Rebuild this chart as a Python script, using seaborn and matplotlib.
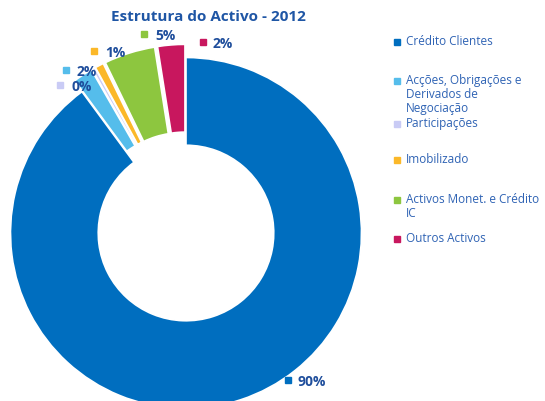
import matplotlib
matplotlib.use("Agg")
from matplotlib import pyplot as plt
from matplotlib.patches import Rectangle
import seaborn as sns

# dados
categorias = [
    "Crédito Clientes",
    "Acções, Obrigações e\nDerivados de\nNegociação",
    "Participações",
    "Imobilizado",
    "Activos Monet. e Crédito\nIC",
    "Outros Activos",
]
valores = [89.9, 1.8, 0.3, 0.8, 4.7, 2.5]
rotulos = ["90%", "2%", "0%", "1%", "5%", "2%"]
cores = ["#006EBF", "#55BDEB", "#C9CBF5", "#FBB829", "#8DC63F", "#C8175E"]

sns.set_theme(style="white")
plt.rcParams["font.family"] = ["Open Sans", "DejaVu Sans"]

W, H = 545, 402
cx, cy, R = 186, 234, 175.5  # centro e raio do anel em pixels

fig = plt.figure(figsize=(W / 100, H / 100), dpi=100)
ax = fig.add_axes([0, 0, 1, 1])

palette = sns.color_palette(cores)
explode = [0 if v > 50 else 0.075 for v in valores]
ax.pie(
    valores,
    colors=palette,
    startangle=90,
    counterclock=False,
    explode=explode,
    radius=1,
    wedgeprops=dict(width=0.5, edgecolor="white", linewidth=1.2),
)
ax.set_aspect("auto")
ax.set_xlim(-cx / R, (W - cx) / R)
ax.set_ylim(-(H - cy) / R, cy / R)
ax.axis("off")


def px(x, y):
    return (x - cx) / R, (cy - y) / R


sq = 6 / R
txt_col = "#1F4E9C"

# rotulos de percentagem (quadrado, texto)
pos_rot = [(288, 381, 297), (66, 71, 77), (60, 86, 72), (94, 52, 105), (144, 35, 155), (203, 43, 213)]
for (sx, sy, tx), lab, c in zip(pos_rot, rotulos, palette):
    x, y = px(sx, sy)
    ax.add_patch(Rectangle((x - sq / 2, y - sq / 2), sq, sq, color=c, clip_on=False))
    tx_, ty_ = px(tx, sy + 1)
    ax.text(tx_, ty_, lab, fontsize=10, fontweight="bold", color=txt_col, va="center", ha="left")

# legenda
leg_y = [43, 82, 125, 161, 201, 240]
for yy, cat, c in zip(leg_y, categorias, palette):
    x, y = px(397, yy)
    ax.add_patch(Rectangle((x - sq / 2, y - sq / 2), sq, sq, color=c, clip_on=False))
    tx_, ty_ = px(406, yy - 8)
    ax.text(tx_, ty_, cat, fontsize=8.5, color="#2F63B4", va="top", ha="left", linespacing=1.1)

fig.text(208 / W, 1 - 17 / H, "Estrutura do Activo - 2012", fontsize=11,
         fontweight="bold", color="#1F56A5", ha="center", va="center")

fig.savefig("out.png", dpi=100)
